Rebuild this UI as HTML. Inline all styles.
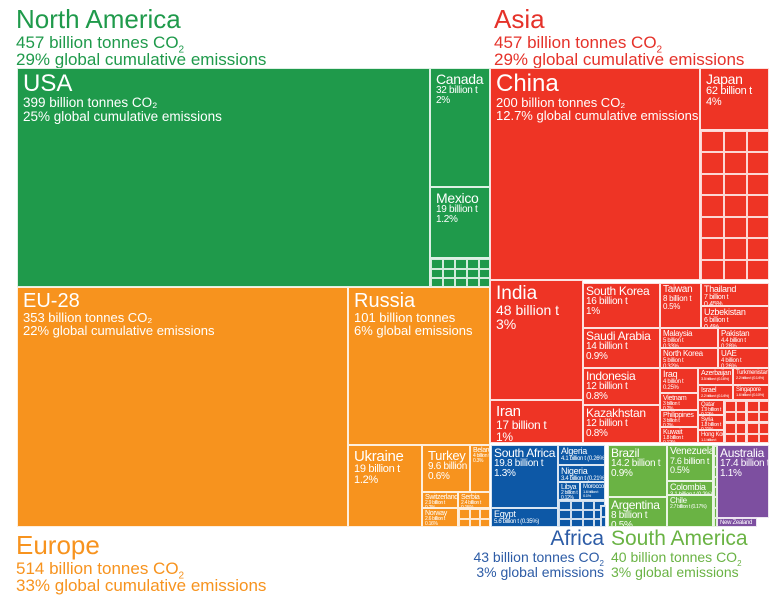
<!DOCTYPE html>
<html><head><meta charset="utf-8"><style>
body{margin:0;width:769px;height:600px;background:#fff;overflow:hidden;font-family:"Liberation Sans",sans-serif;position:relative}
.c{position:absolute;box-sizing:border-box;border:1px solid rgba(255,255,255,.85);color:#fff;overflow:hidden;line-height:1.0;white-space:nowrap}
.t{position:absolute;line-height:1.0;white-space:nowrap}
.n{display:block}
</style></head><body>
<div class="t" style="left:16px;top:6px;color:#1f9a4b"><div style="font-size:26px">North America</div><div style="font-size:17px;margin-top:2px">457 billion tonnes CO<sub style="font-size:10px">2</sub></div><div style="font-size:17px;margin-top:-4px">29% global cumulative emissions</div></div>
<div class="t" style="left:494px;top:6px;color:#e5322a"><div style="font-size:26px">Asia</div><div style="font-size:17px;margin-top:2px">457 billion tonnes CO<sub style="font-size:10px">2</sub></div><div style="font-size:17px;margin-top:-4px">29% global cumulative emissions</div></div>
<div class="t" style="left:16px;top:532px;color:#f7931e"><div style="font-size:26px">Europe</div><div style="font-size:17px;margin-top:2px">514 billion tonnes CO<sub style="font-size:10px">2</sub></div><div style="font-size:17px;margin-top:-4px">33% global cumulative emissions</div></div>
<div class="t" style="right:165px;top:528px;color:#2d5ca6;text-align:right"><div style="font-size:21px">Africa</div><div style="font-size:14px;margin-top:1px">43 billion tonnes CO<sub style="font-size:8px">2</sub></div><div style="font-size:14px;margin-top:-3px">3% global emissions</div></div>
<div class="t" style="left:611px;top:528px;color:#6ab344"><div style="font-size:21px">South America</div><div style="font-size:14px;margin-top:1px">40 billion tonnes CO<sub style="font-size:8px">2</sub></div><div style="font-size:14px;margin-top:-3px">3% global emissions</div></div>
<div id="map"></div>
<script>
const G='#1f9a4b',R='#ee3425',O='#f7931e',B='#0d58a6',S='#6ab344',P='#7d4fa0';
const names=['USA','Canada','Mexico','','China','Japan','','India','Iran','South Korea','Saudi Arabia','Indonesia','Kazakhstan','Taiwan','Thailand','Uzbekistan','Malaysia','Pakistan','North Korea','UAE','Iraq','Azerbaijan','Turkmenistan','Israel','Singapore','Vietnam','Philippines','Kuwait','Qatar','Syria','Hong Kong','','','','','EU-28','Russia','Ukraine','Turkey','Belarus','Switzerland','Serbia','Norway','','South Africa','Egypt','Algeria','Nigeria','Libya','Morocco','Tunisia','','Brazil','Argentina','Venezuela','Colombia','Chile','','Australia','New Zealand'];
const subs=[['399 billion tonnes CO₂','25% global cumulative emissions'],['32 billion t','2%'],['19 billion t','1.2%'],[],['200 billion tonnes CO₂','12.7% global cumulative emissions'],['62 billion t','4%'],[],['48 billion t','3%'],['17 billion t','1%'],['16 billion t','1%'],['14 billion t','0.9%'],['12 billion t','0.8%'],['12 billion t','0.8%'],['8 billion t','0.5%'],['7 billion t','0.45%'],['6 billion t','0.4%'],['5 billion t','0.33%'],['4.4 billion t','0.28%'],['5 billion t','0.32%'],['4 billion t','0.26%'],['4 billion t','0.25%'],['3.5 billion t (0.16%)'],['2.2 billion t (0.14%)'],['2.2 billion t (0.14%)'],['1.6 billion t (0.10%)'],['3 billion t','0.2%'],['3 billion t','0.2%'],['1.8 billion t','0.12%'],['1.9 billion t','0.12%'],['1.8 billion t','0.11%'],['1.1 billion t','0.1%'],[],[],[],[],['353 billion tonnes CO₂','22% global cumulative emissions'],['101 billion tonnes','6% global emissions'],['19 billion t','1.2%'],['9.6 billion t','0.6%'],['4 billion t','0.3%'],['2.9 billion t','0.2%'],['2.4 billion t','0.15%'],['2.6 billion t','0.16%'],[],['19.8 billion t','1.3%'],['5.6 billion t (0.35%)'],['4.1 billion t (0.26%)'],['3.4 billion t (0.21%)'],['2 billion t','0.12%'],['1.6 billion t','0.1%'],[],[],['14.2 billion t','0.9%'],['8 billion t','0.5%'],['7.6 billion t','0.5%'],['3.1 billion t (0.2%)'],['2.7 billion t (0.17%)'],[],['17.4 billion t','1.1%'],['1.6 billion t (0.1%)']];
const L=[[17,68,413,219,G,24,13.5],[430,68,60,119,G,14,10],[430,187,60,71,G,14,10],[430,258,60,29,G,0,0],
[490,68,210,212,R,24,13],[700,68,69,62,R,14,11],[700,130,69,150,R,0,0],
[490,280,93,120,R,19,14],[490,400,93,43,R,15,12],[583,283,77,45,R,12,10],[583,328,77,40,R,12,10],[583,368,77,37,R,12,10],[583,405,77,38,R,12,10],
[660,283,41,45,R,10,8],[701,283,68,23,R,9,7],[701,306,68,22,R,9,7],[660,328,58,20,R,8,6],[718,328,51,20,R,8,6],[660,348,58,20,R,8,6],[718,348,51,20,R,8,6],
[660,368,38,25,R,9,6],[698,368,35,17,R,7,4],[733,368,36,17,R,6,4],[698,385,35,15,R,7,4],[733,385,36,15,R,6,4],[660,393,38,17,R,7,5],[660,410,38,17,R,7,5],[660,427,38,16,R,7,5],
[698,400,26,15,R,6,5],[698,415,26,15,R,6,5],[698,430,26,13,R,6,4],[724,400,22,22,R,0,0],[746,400,23,22,R,0,0],[724,422,22,21,R,0,0],[746,422,23,21,R,0,0],
[17,287,331,240,O,20,13],[348,287,142,158,O,20,13],[348,445,74,82,O,15,11],[422,445,48,47,O,13,10],[470,445,20,47,O,7,5],[422,492,36,16,O,7,5],[458,492,32,16,O,7,5],[422,508,36,19,O,7,5],[458,508,32,19,O,0,0],
[491,445,67,63,B,12,10],[491,508,67,19,B,9,6],[558,445,47,20,B,9,6],[558,465,47,17,B,9,6],[558,482,22,18,B,7,5],[580,482,25,18,B,6,4],[558,500,47,27,B,0,0],[600,505,5,22,B,0,0],
[608,445,59,52,S,12,10],[608,497,59,30,S,12,10],[667,445,46,36,S,10,9],[667,481,46,14,S,9,6],[667,495,46,32,S,8,5],[713,445,3,82,S,0,0],
[717,445,52,73,P,12,10],[717,518,40,9,P,6,4]];
const map=document.getElementById('map');
for(let i=0;i<L.length;i++){
 const [x,y,w,h,c,ts,ss]=L[i];
 const d=document.createElement('div');
 d.className='c';
 
 
 d.style.cssText=`left:${x}px;top:${y}px;width:${w}px;height:${h}px;background:${c};padding:${ts>12?3:1}px ${ts>12?5:2}px`;
 if(ts&&names[i]){
  const ls=ts<16?'letter-spacing:-0.3px;':'';
  let html=`<span class="n" style="font-size:${ts}px;${ls}">${names[i]}</span>`;
  for(const s of subs[i])html+=`<span class="n" style="font-size:${ss}px;${ls}">${s}</span>`;
  d.innerHTML=html;
 }
 if(!ts){
  const big=h>100;
  const cols=Math.max(1,Math.round(w/(big?23:12))),rows=Math.max(1,Math.round(h/(big?22:10)));
  for(let a=0;a<cols;a++)for(let b=0;b<rows;b++){const e=document.createElement('div');
   
   
   e.style.cssText=`position:absolute;left:${a*w/cols}px;top:${b*h/rows}px;width:${w/cols}px;height:${h/rows}px;border:1px solid rgba(255,255,255,.8);box-sizing:border-box`;d.appendChild(e);}
 }
 map.appendChild(d);
}
</script>
</body></html>
